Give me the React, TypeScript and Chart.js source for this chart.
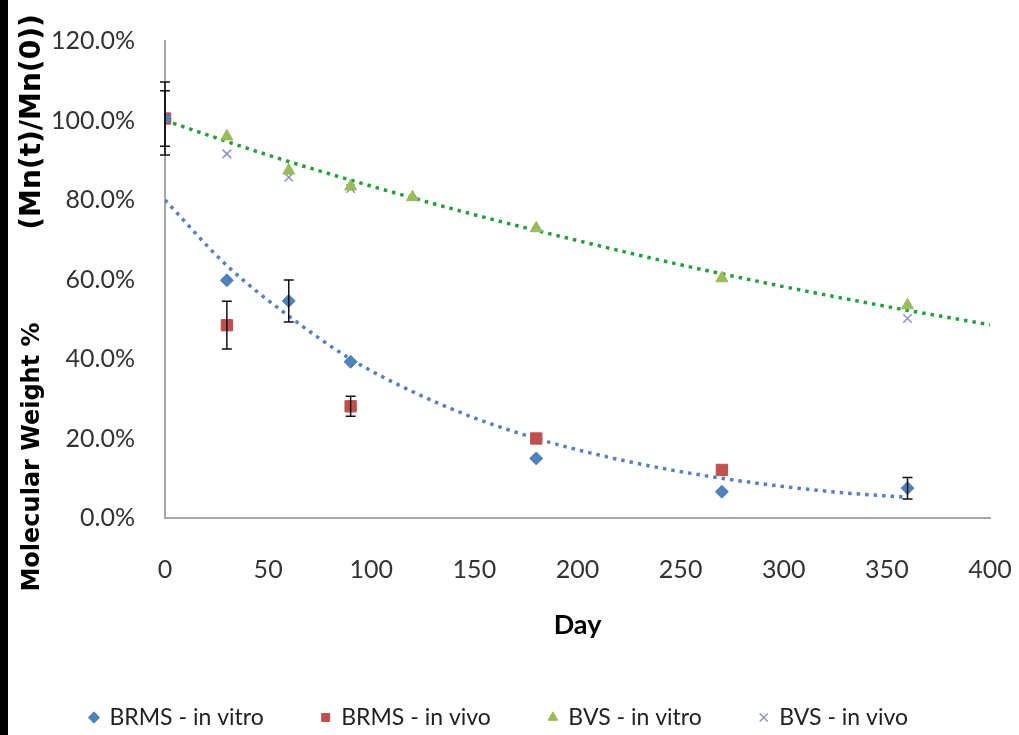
import { useEffect, useRef } from 'react';
import { Chart, registerables } from 'chart.js';

Chart.register(...registerables);

// ---- data ----
const DAYS_BRMS_VITRO = [0, 30, 60, 90, 180, 270, 360];
const BRMS_VITRO = [100.5, 59.8, 54.6, 39.3, 15, 6.6, 7.5];
const BRMS_VITRO_ERR = [9.2, 0, 5.3, 0, 0, 0, 2.7];

const DAYS_BRMS_VIVO = [0, 30, 90, 180, 270];
const BRMS_VIVO = [100.5, 48.5, 28.1, 20, 12.1];
const BRMS_VIVO_ERR = [7, 6, 2.5, 0, 0];

const DAYS_BVS_VITRO = [0, 30, 60, 90, 120, 180, 270, 360];
const BVS_VITRO = [100.5, 96, 87.4, 83.4, 80.7, 72.9, 60.3, 53.5];

const DAYS_BVS_VIVO = [0, 30, 60, 90, 360];
const BVS_VIVO = [100.5, 91.6, 85.7, 82.9, 50.2];

// dotted trendlines, values
const TREND_BRMS_DAYS = [0, 30, 60, 90, 120, 150, 180, 210, 240, 270, 300, 330, 360];
const TREND_BRMS = [80, 63.5, 50.8, 40, 31.8, 25.2, 20, 15.9, 12.6, 10, 7.9, 6.3, 5.2];
const TREND_BVS_DAYS = [0, 50, 100, 150, 200, 250, 300, 350, 400];
const TREND_BVS = [100, 91.3, 83.5, 76.3, 69.8, 63.7, 58.2, 53.2, 48.6];

const X_TICKS = [0, 50, 100, 150, 200, 250, 300, 350, 400];
const Y_TICKS = [0, 20, 40, 60, 80, 100, 120];

const LEGEND_LABELS = ['BRMS - in vitro', 'BRMS - in vivo', 'BVS - in vitro', 'BVS - in vivo'];
const Y_TITLE_MAIN = 'Molecular Weight %';
const Y_TITLE_SUB = '(Mn(t)/Mn(0))';
const X_TITLE = 'Day';

const FONT = "'Lato', 'Liberation Sans', sans-serif";

const pts = (xs: number[], ys: number[]) => xs.map((x, i) => ({ x, y: ys[i] }));

const errorBarPlugin = {
  id: 'errorBars',
  afterDatasetsDraw(chart: any) {
    const ctx = chart.ctx;
    const yScale = chart.scales.y;
    chart.data.datasets.forEach((ds: any, i: number) => {
      const errs: number[] | undefined = ds.errors;
      if (!errs) return;
      const meta = chart.getDatasetMeta(i);
      meta.data.forEach((pt: any, j: number) => {
        const e = errs[j];
        if (!e) return;
        const v = ds.data[j].y;
        const x = pt.x;
        const yTop = yScale.getPixelForValue(v + e);
        const yBot = yScale.getPixelForValue(v - e);
        ctx.save();
        ctx.strokeStyle = '#111';
        ctx.lineWidth = 1.5;
        ctx.beginPath();
        ctx.moveTo(x, yTop);
        ctx.lineTo(x, yBot);
        ctx.moveTo(x - 5, yTop);
        ctx.lineTo(x + 5, yTop);
        ctx.moveTo(x - 5, yBot);
        ctx.lineTo(x + 5, yBot);
        ctx.stroke();
        ctx.restore();
      });
    });
  },
};

const drawRotated = (ctx: any, text: string, x: number, y: number, font: string) => {
  ctx.save();
  ctx.fillStyle = '#000';
  ctx.font = font;
  ctx.textAlign = 'center';
  ctx.textBaseline = 'middle';
  ctx.translate(x, y);
  ctx.rotate(-Math.PI / 2);
  ctx.fillText(text, 0, 0);
  ctx.restore();
};

const yTitlePlugin = {
  id: 'yTitle',
  afterDraw(chart: any) {
    const ctx = chart.ctx;
    drawRotated(ctx, Y_TITLE_MAIN, 25, 457, "bold 24px 'DejaVu Sans', sans-serif");
    drawRotated(ctx, Y_TITLE_SUB, 25, 122, "bold 28px 'DejaVu Sans', sans-serif");
  },
};

export default function App() {
  const ref = useRef<HTMLCanvasElement>(null);
  useEffect(() => {
    document.body.style.margin = '0';
    const chart = new Chart(ref.current as HTMLCanvasElement, {
      type: 'scatter',
      data: {
        datasets: [
          {
            label: LEGEND_LABELS[0],
            data: pts(DAYS_BRMS_VITRO, BRMS_VITRO),
            errors: BRMS_VITRO_ERR,
            pointStyle: 'rectRot',
            pointRadius: 6.5,
            backgroundColor: '#4F81BD',
            borderColor: '#4F81BD',
          } as any,
          {
            label: LEGEND_LABELS[1],
            data: pts(DAYS_BRMS_VIVO, BRMS_VIVO),
            errors: BRMS_VIVO_ERR,
            pointStyle: 'rect',
            pointRadius: 8,
            backgroundColor: '#C0504D',
            borderColor: '#C0504D',
          } as any,
          {
            label: LEGEND_LABELS[2],
            data: pts(DAYS_BVS_VITRO, BVS_VITRO),
            pointStyle: 'triangle',
            pointRadius: 7,
            backgroundColor: '#9BBB59',
            borderColor: '#9BBB59',
          },
          {
            label: LEGEND_LABELS[3],
            data: pts(DAYS_BVS_VIVO, BVS_VIVO),
            pointStyle: 'crossRot',
            pointRadius: 6,
            borderWidth: 1.5,
            backgroundColor: '#8D93C8',
            borderColor: '#8D93C8',
          },
          {
            label: 'Trend BRMS',
            data: pts(TREND_BRMS_DAYS, TREND_BRMS),
            showLine: true,
            pointRadius: 0,
            borderColor: '#5A80BE',
            borderWidth: 3.5,
            borderDash: [3.5, 5],
            cubicInterpolationMode: 'monotone',
          },
          {
            label: 'Trend BVS',
            data: pts(TREND_BVS_DAYS, TREND_BVS),
            showLine: true,
            pointRadius: 0,
            borderColor: '#22A03C',
            borderWidth: 3.5,
            borderDash: [3.5, 5],
            cubicInterpolationMode: 'monotone',
          },
        ],
      },
      options: {
        animation: false,
        responsive: false,
        layout: { padding: { top: 41, right: 29, left: 0, bottom: -4 } },
        scales: {
          x: {
            type: 'linear',
            min: 0,
            max: 400,
            afterBuildTicks: (s: any) => {
              s.ticks = X_TICKS.map((v) => ({ value: v }));
            },
            afterFit: (s: any) => {
              s.height = 130;
              s.paddingLeft = 0;
              s.paddingRight = 0;
            },
            grid: { display: false, drawTicks: false },
            border: { display: true, color: '#A6A6A6', width: 2 },
            ticks: {
              padding: 37,
              color: '#333',
              font: { family: FONT, size: 25 },
            },
            title: {
              display: true,
              text: X_TITLE,
              color: '#000',
              font: { family: FONT, size: 27, weight: 'bold' },
              padding: { top: 4, bottom: 7 },
            },
          },
          y: {
            type: 'linear',
            min: 0,
            max: 120,
            afterBuildTicks: (s: any) => {
              s.ticks = Y_TICKS.map((v) => ({ value: v }));
            },
            afterFit: (s: any) => {
              s.width = 157;
              s.paddingTop = 0;
              s.paddingBottom = 0;
            },
            grid: { display: false, drawTicks: false },
            border: { display: true, color: '#A6A6A6', width: 2 },
            ticks: {
              padding: 30,
              color: '#333',
              font: { family: FONT, size: 25 },
              callback: (v: any) => Number(v).toFixed(1) + '%',
            },
          },
        },
        plugins: {
          tooltip: { enabled: false },
          legend: {
            position: 'bottom',
            labels: {
              usePointStyle: true,
              boxWidth: 8,
              boxHeight: 8,
              padding: 58,
              color: '#222',
              font: { family: FONT, size: 23 },
              filter: (item: any) => !String(item.text).startsWith('Trend'),
            },
          },
        },
      },
      plugins: [errorBarPlugin, yTitlePlugin],
    } as any);
    return () => chart.destroy();
  }, []);
  return (
    <div style={{ display: 'flex', width: 1019, height: 735, background: '#fff' }}>
      <div style={{ width: 8, height: 735, background: '#000', flex: 'none' }} />
      <canvas ref={ref} width={1011} height={735} style={{ display: 'block' }} />
    </div>
  );
}
